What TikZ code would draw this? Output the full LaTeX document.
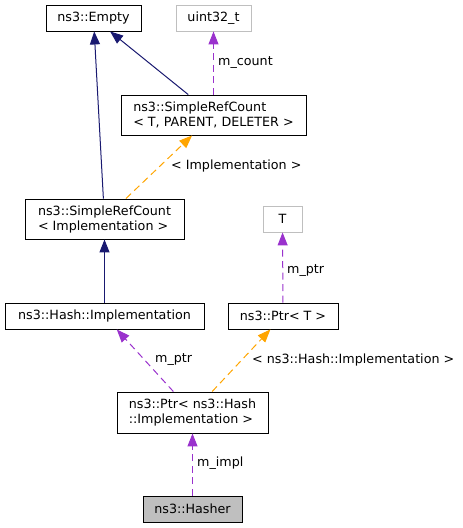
\documentclass[tikz,border=0pt]{standalone}
\usepackage{fontspec}
\setmainfont{DejaVu Sans}
\usetikzlibrary{arrows.meta}
\definecolor{edgeblue}{HTML}{191970}
\definecolor{edgepurple}{HTML}{9A32CD}
\definecolor{edgeorange}{HTML}{FFA500}
\definecolor{boxgray}{HTML}{BFBFBF}
\begin{document}
\begin{tikzpicture}[x=1pt, y=-1pt, >={Triangle[length=13pt,width=10pt]},
    font=\fontsize{12.7}{15}\selectfont,
    cls/.style={draw=black, line width=0.9pt, inner sep=0pt, align=left},
    ext/.style={draw=boxgray, line width=0.9pt, inner sep=0pt},
    inherit/.style={->, edgeblue, line width=1pt},
    usage/.style={->, edgepurple, line width=1pt, dash pattern=on 7pt off 4.5pt},
    tmpl/.style={->, edgeorange, line width=1pt, dash pattern=on 7pt off 4.5pt},
    lbl/.style={anchor=west, inner sep=0pt}]
  \useasboundingbox (0,0) rectangle (463,528);

  \node (empty) at (93.5,18) [cls, minimum width=95pt, minimum height=26pt] {ns3::Empty};
  \node (uint) at (213.5,18) [ext, minimum width=75pt, minimum height=26pt] {uint32\_t};
  \node (srct) at (213.5,115) [cls, minimum width=185pt, minimum height=40pt]
       {ns3::SimpleRefCount\\< T, PARENT, DELETER >};
  \node (srci) at (104.5,219) [cls, minimum width=159pt, minimum height=40pt]
       {ns3::SimpleRefCount\\< Implementation >};
  \node (t) at (282.5,219) [ext, minimum width=39pt, minimum height=26pt] {T};
  \node (himpl) at (104.5,316) [cls, minimum width=199pt, minimum height=26pt] {ns3::Hash::Implementation};
  \node (ptrt) at (283,316) [cls, minimum width=110pt, minimum height=26pt] {ns3::Ptr< T >};
  \node (ptrh) at (192.5,412.5) [cls, minimum width=151pt, minimum height=41pt]
       {ns3::Ptr< ns3::Hash\\::Implementation >};
  \node (hasher) at (192.5,509) [cls, fill=boxgray, minimum width=99pt, minimum height=26pt] {ns3::Hasher};

  \draw [inherit] (srci) -- (empty);
  \draw [inherit] (srct) -- (empty);
  \draw [usage] (srct) -- (uint);
  \draw [tmpl] (srci) -- (srct);
  \draw [inherit] (himpl) -- (srci);
  \draw [usage] (ptrt) -- (t);
  \draw [usage] (ptrh) -- (himpl);
  \draw [tmpl] (ptrh) -- (ptrt);
  \draw [usage] (hasher) -- (ptrh);

  \node (l1) at (218,63) [lbl] {m\_count};
  \node (l2) at (171,166) [lbl] {< Implementation >};
  \node (l3) at (287,271) [lbl] {m\_ptr};
  \node (l4) at (155,360) [lbl] {m\_ptr};
  \node (l5) at (252,360) [lbl] {< ns3::Hash::Implementation >};
  \node (l6) at (197,463) [lbl] {m\_impl};
\end{tikzpicture}
\end{document}
